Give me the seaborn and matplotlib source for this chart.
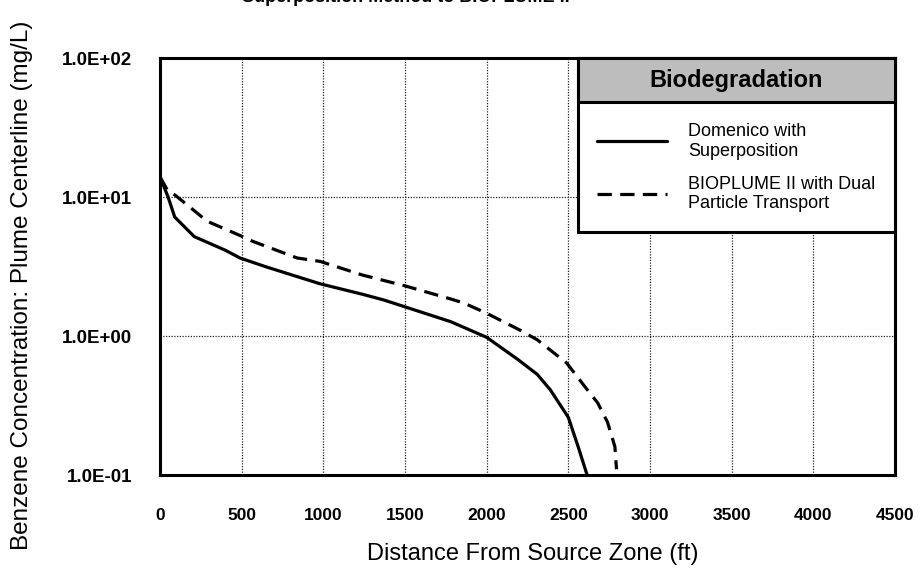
import numpy as np
import pandas as pd
import matplotlib
matplotlib.use("Agg")
import matplotlib.pyplot as plt
from matplotlib.patches import Rectangle
from matplotlib.ticker import FixedLocator, FixedFormatter
import seaborn as sns

# ---- data ----
solid_x = [0, 50, 90, 210, 400, 490, 650, 980, 1240, 1370, 1780, 2000, 2190, 2310, 2390, 2500, 2560, 2615]
solid_y = [14.0, 10.0, 7.2, 5.2, 4.15, 3.65, 3.15, 2.38, 2.0, 1.82, 1.27, 0.98, 0.68, 0.53, 0.41, 0.26, 0.16, 0.10]

dashed_x = [0, 50, 90, 290, 490, 570, 840, 980, 1240, 1500, 1780, 1860, 2000, 2200, 2310, 2490, 2590, 2680, 2740, 2785, 2795]
dashed_y = [14.0, 11.0, 10.4, 6.7, 5.3, 4.8, 3.65, 3.45, 2.75, 2.3, 1.85, 1.73, 1.46, 1.11, 0.94, 0.64, 0.45, 0.33, 0.24, 0.16, 0.11]

solid_label = "Domenico with\nSuperposition"
dashed_label = "BIOPLUME II with Dual\nParticle Transport"

x_ticks = [0, 500, 1000, 1500, 2000, 2500, 3000, 3500, 4000, 4500]
y_ticks = [0.1, 1.0, 10.0, 100.0]
y_tick_labels = ["1.0E-01", "1.0E+00", "1.0E+01", "1.0E+02"]

title = "Superposition Method to BIOPLUME II"
x_label = "Distance From Source Zone (ft)"
y_label = "Benzene Concentration: Plume Centerline (mg/L)"
legend_title = "Biodegradation"

sns.set_theme(style="white")
plt.rcParams["font.family"] = ["Liberation Sans", "DejaVu Sans"]
plt.rcParams["text.color"] = "black"
plt.rcParams["axes.labelcolor"] = "black"
plt.rcParams["xtick.color"] = "black"
plt.rcParams["ytick.color"] = "black"

fig = plt.figure(figsize=(9.21, 5.69), dpi=100)
ax_h = 475 - 58.3
ax = fig.add_axes([160/921, 1-475/569, 735/921, ax_h/569])

df_s = pd.DataFrame({"x": solid_x, "y": solid_y})
df_d = pd.DataFrame({"x": dashed_x, "y": dashed_y})
sns.lineplot(data=df_s, x="x", y="y", ax=ax, color="black", lw=2.3,
             label=solid_label, sort=False, estimator=None, zorder=4)
sns.lineplot(data=df_d, x="x", y="y", ax=ax, color="black", lw=2.3,
             linestyle=(0, (4.5, 2.6)), label=dashed_label, sort=False,
             estimator=None, zorder=4)

ax.set_yscale("log")
ax.set_xlim(0, 4500)
ax.set_ylim(0.1, 100)
ax.xaxis.set_major_locator(FixedLocator(x_ticks))
ax.set_xticklabels([str(v) for v in x_ticks])
ax.yaxis.set_major_locator(FixedLocator(y_ticks))
ax.yaxis.set_major_formatter(FixedFormatter(y_tick_labels))
ax.yaxis.set_minor_locator(FixedLocator([]))

ax.grid(True, which="major", color="#222222", lw=0.9, linestyle=(0, (1, 1.2)))
for s in ax.spines.values():
    s.set_color("black")
    s.set_linewidth(2.2)
ax.tick_params(axis="both", which="major", direction="inout", length=10,
               width=1.8, color="black", labelcolor="black")
ax.tick_params(axis="x", labelsize=12.5, pad=19)
ax.tick_params(axis="y", labelsize=13.5, pad=15)
for lab in ax.get_xticklabels() + ax.get_yticklabels():
    lab.set_fontweight("bold")

ax.set_xlabel(x_label, fontsize=17, color="black")
ax.set_ylabel(y_label, fontsize=17.5, color="black")
ax.xaxis.set_label_coords((533-160)/735, (475-543)/ax_h)
ax.yaxis.set_label_coords((33-160)/735, 1-(285-58.3)/ax_h)

fig.text(406/921, 1-2.5/569, title, ha="center", va="baseline",
         fontsize=13, fontweight="bold", color="black")

# legend box with shaded header
bx0 = (578-160)/735
by0 = 1-(232-58.3)/ax_h
hy0 = 1-(102-58.3)/ax_h
ax.add_patch(Rectangle((bx0, by0), 1-bx0, 1-by0, transform=ax.transAxes,
                       facecolor="white", edgecolor="black", lw=2.2,
                       zorder=5, clip_on=False))
ax.add_patch(Rectangle((bx0, hy0), 1-bx0, 1-hy0, transform=ax.transAxes,
                       facecolor="#bdbdbd", edgecolor="black", lw=2.2,
                       zorder=6, clip_on=False))
ax.text((bx0+1)/2, (hy0+1)/2, legend_title, transform=ax.transAxes,
        ha="center", va="center", fontsize=17, fontweight="heavy",
        color="black", zorder=7)

leg = ax.legend(loc="upper left", bbox_to_anchor=((597-160)/735, 1-(123-58.3)/ax_h),
                frameon=False, fontsize=13, handlelength=3.9,
                handletextpad=1.15, labelspacing=0.9, borderpad=0,
                borderaxespad=0)
leg.set_zorder(8)
for t in leg.get_texts():
    t.set_linespacing(1.2)
    t.set_color("black")

fig.savefig("out.png", dpi=100)
